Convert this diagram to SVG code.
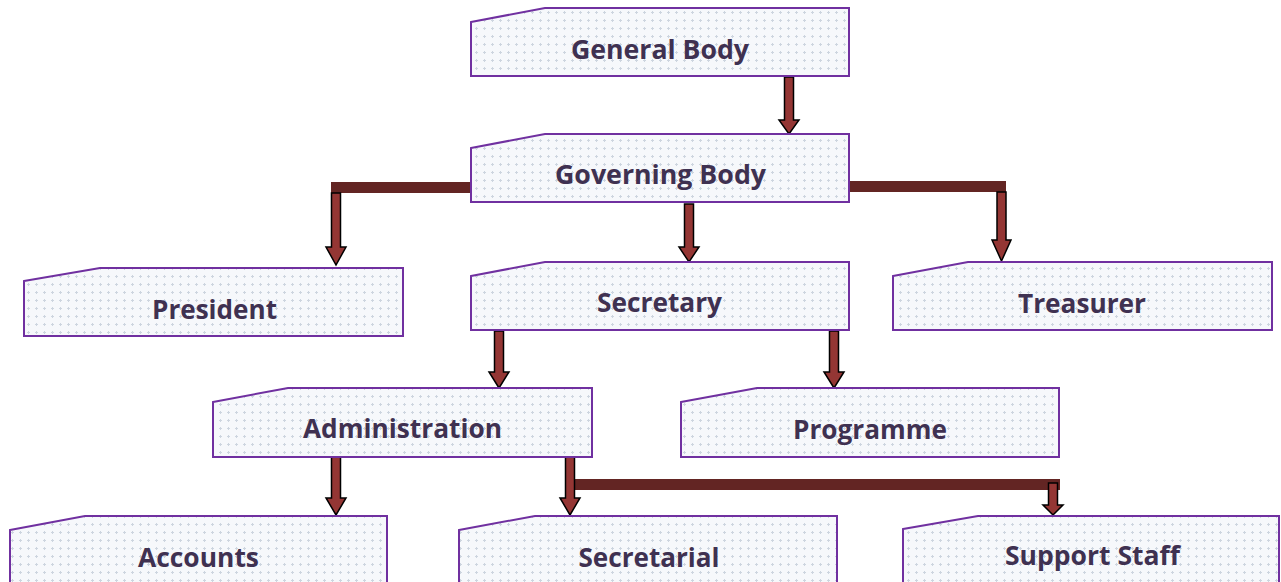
<svg xmlns="http://www.w3.org/2000/svg" width="1281" height="582" viewBox="0 0 1281 582">
<defs>
<pattern id="dots" width="8" height="8" patternUnits="userSpaceOnUse">
<rect width="8" height="8" fill="#f6f8fb"/>
<path d="M3 4.5h3M4.5 3v3" stroke="#cdd5df" stroke-width="1"/>
</pattern>
</defs>
<style>
.node{fill:url(#dots);stroke:#7030a0;stroke-width:2}
.lbl{font-family:"Open Sans","Liberation Sans",sans-serif;font-weight:bold;font-size:27px;fill:#3f3151;text-anchor:middle}
.arr{fill:#943634;stroke:#000;stroke-width:1.5;stroke-linejoin:miter}
.bar{fill:#632523}
</style>
<g id="connectors">
<rect class="bar" x="331" y="182" width="140" height="11"/>
<rect class="bar" x="849" y="181" width="157" height="11"/>
<rect class="bar" x="575" y="479" width="485" height="11"/>
<polygon class="arr" points="784.5,77 793.5,77 793.5,120 799,120 789,134 779,120 784.5,120"/>
<polygon class="arr" points="331.5,193 340.5,193 340.5,247 346,247 336,265 326,247 331.5,247"/>
<polygon class="arr" points="684.5,204 693.5,204 693.5,247 699,247 689,262 679,247 684.5,247"/>
<polygon class="arr" points="997,192 1006,192 1006,240 1011,240 1001.5,261 992,240 997,240"/>
<polygon class="arr" points="494.5,331 503.5,331 503.5,372 509,372 499,388 489,372 494.5,372"/>
<polygon class="arr" points="829.5,331 838.5,331 838.5,372 844,372 834,388 824,372 829.5,372"/>
<polygon class="arr" points="331.5,457 340.5,457 340.5,498 346,498 336,515 326,498 331.5,498"/>
<polygon class="arr" points="565.5,457 574.5,457 574.5,498 580,498 570,515 560,498 565.5,498"/>
<polygon class="arr" points="1048.5,483 1057.5,483 1057.5,505 1063,505 1053,515 1043,505 1048.5,505"/>
</g>
<g id="general-body">
<polygon class="node" points="471,22 545,8 849,8 849,76 471,76"/>
<text class="lbl" x="660" y="59" textLength="178" lengthAdjust="spacingAndGlyphs">General Body</text>
</g>
<g id="governing-body">
<polygon class="node" points="471,148 545,134 849,134 849,202 471,202"/>
<text class="lbl" x="660.5" y="184" textLength="211" lengthAdjust="spacingAndGlyphs">Governing Body</text>
</g>
<g id="president">
<polygon class="node" points="24,281 100,268 403,268 403,336 24,336"/>
<text class="lbl" x="214.5" y="319" textLength="125" lengthAdjust="spacingAndGlyphs">President</text>
</g>
<g id="secretary">
<polygon class="node" points="471,276 545,262 849,262 849,330 471,330"/>
<text class="lbl" x="659.5" y="312" textLength="125" lengthAdjust="spacingAndGlyphs">Secretary</text>
</g>
<g id="treasurer">
<polygon class="node" points="893,276 968,262 1272,262 1272,330 893,330"/>
<text class="lbl" x="1082" y="313" textLength="128" lengthAdjust="spacingAndGlyphs">Treasurer</text>
</g>
<g id="administration">
<polygon class="node" points="213,402 288,388 592,388 592,457 213,457"/>
<text class="lbl" x="402.5" y="438" textLength="199" lengthAdjust="spacingAndGlyphs">Administration</text>
</g>
<g id="programme">
<polygon class="node" points="681,402 757,388 1059,388 1059,457 681,457"/>
<text class="lbl" x="870" y="439" textLength="154" lengthAdjust="spacingAndGlyphs">Programme</text>
</g>
<g id="accounts">
<polygon class="node" points="10,530 85,516 387,516 387,590 10,590"/>
<text class="lbl" x="198.5" y="567" textLength="121" lengthAdjust="spacingAndGlyphs">Accounts</text>
</g>
<g id="secretarial">
<polygon class="node" points="459,530 535,516 837,516 837,590 459,590"/>
<text class="lbl" x="649" y="567" textLength="141" lengthAdjust="spacingAndGlyphs">Secretarial</text>
</g>
<g id="support-staff">
<polygon class="node" points="903,529 978,516 1279,516 1279,590 903,590"/>
<text class="lbl" x="1092.5" y="565" textLength="175" lengthAdjust="spacingAndGlyphs">Support Staff</text>
</g>
</svg>
